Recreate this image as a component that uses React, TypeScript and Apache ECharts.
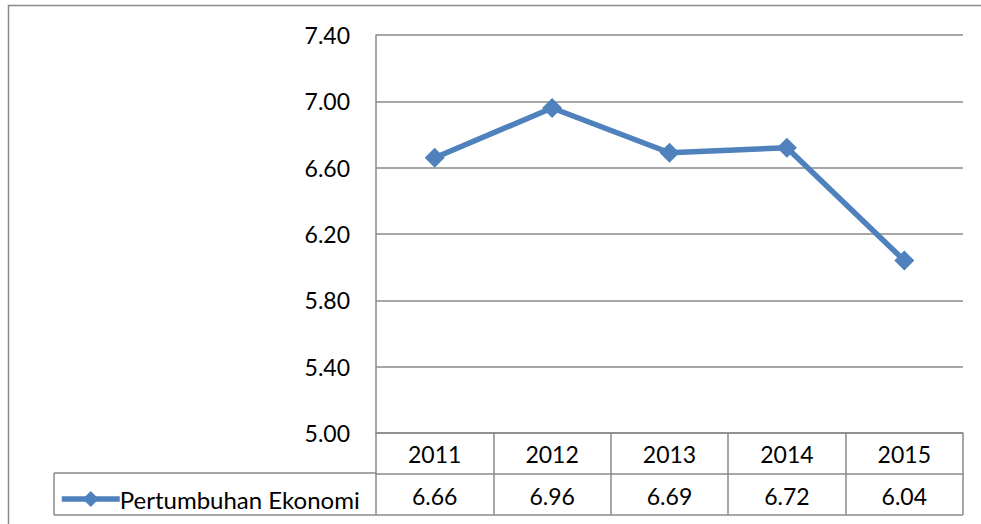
import React, { useEffect, useRef } from "react";
import * as echarts from "echarts";

const years = ["2011", "2012", "2013", "2014", "2015"];
const growth = [6.66, 6.96, 6.69, 6.72, 6.04];
const seriesName = "Pertumbuhan Ekonomi";
const yMin = 5.0;
const yMax = 7.4;
const yStep = 0.4;

const FONT = "Lato";
const LINE_GRAY = "#8a8a8a";
const BLUE = "#4f81bd";

export default function App() {
  const ref = useRef<HTMLDivElement>(null);
  useEffect(() => {
    if (!ref.current) return;
    const chart = echarts.init(ref.current, null, { renderer: "svg" });
    chart.setOption({
      animation: false,
      backgroundColor: "#ffffff",
      textStyle: { fontFamily: FONT },
      grid: { left: 376, right: 18, top: 35, bottom: 91, containLabel: false },
      legend: {
        data: [seriesName],
        left: 54,
        top: 482,
        itemWidth: 58,
        itemHeight: 20,
        itemGap: 4,
        lineStyle: { width: 5.5 },
        textStyle: { fontFamily: FONT, fontSize: 24, color: "#000", padding: [0, 0, 0, -5] },
      },
      xAxis: [
        {
          type: "category",
          data: years,
          boundaryGap: true,
          position: "bottom",
          axisLine: { show: true, lineStyle: { color: LINE_GRAY, width: 1.5 } },
          axisTick: { show: true, length: 82, lineStyle: { color: LINE_GRAY, width: 1.5 } },
          axisLabel: { show: true, color: "#000", fontFamily: FONT, fontSize: 23, margin: 9 },
          splitLine: { show: false },
        },
        {
          type: "category",
          data: growth.map((v) => v.toFixed(2)),
          boundaryGap: true,
          position: "bottom",
          offset: 41,
          axisLine: { show: true, lineStyle: { color: LINE_GRAY, width: 1.5 } },
          axisTick: { show: false },
          axisLabel: { show: true, color: "#000", fontFamily: FONT, fontSize: 23, margin: 10 },
          splitLine: { show: false },
        },
      ],
      yAxis: {
        type: "value",
        min: yMin,
        max: yMax,
        interval: yStep,
        axisLine: { show: true, lineStyle: { color: LINE_GRAY, width: 1.5 } },
        axisTick: { show: false },
        axisLabel: {
          color: "#000",
          fontFamily: FONT,
          fontSize: 23,
          margin: 26,
          formatter: (v: number) => v.toFixed(2),
        },
        splitLine: { show: true, lineStyle: { color: LINE_GRAY, width: 1.5 } },
      },
      graphic: [
        {
          type: "rect",
          shape: { x: 8.5, y: 5.5, width: 990, height: 540 },
          style: { fill: "none", stroke: LINE_GRAY, lineWidth: 1.5 },
          silent: true,
        },
        {
          type: "line",
          shape: { x1: 54, y1: 473, x2: 376, y2: 473 },
          style: { stroke: LINE_GRAY, lineWidth: 1.5 },
        },
        {
          type: "line",
          shape: { x1: 54, y1: 515, x2: 963, y2: 515 },
          style: { stroke: LINE_GRAY, lineWidth: 1.5 },
        },
        {
          type: "line",
          shape: { x1: 54, y1: 473, x2: 54, y2: 515 },
          style: { stroke: LINE_GRAY, lineWidth: 1.5 },
        },
      ],
      series: [
        {
          name: seriesName,
          type: "line",
          xAxisIndex: 0,
          data: growth,
          symbol: "diamond",
          symbolSize: 20,
          lineStyle: { color: BLUE, width: 5.5 },
          itemStyle: { color: BLUE },
        },
      ],
    });
    return () => chart.dispose();
  }, []);
  return (
    <div
      ref={ref}
      style={{ position: "fixed", left: 0, top: 0, width: 981, height: 524, background: "#fff" }}
    />
  );
}
